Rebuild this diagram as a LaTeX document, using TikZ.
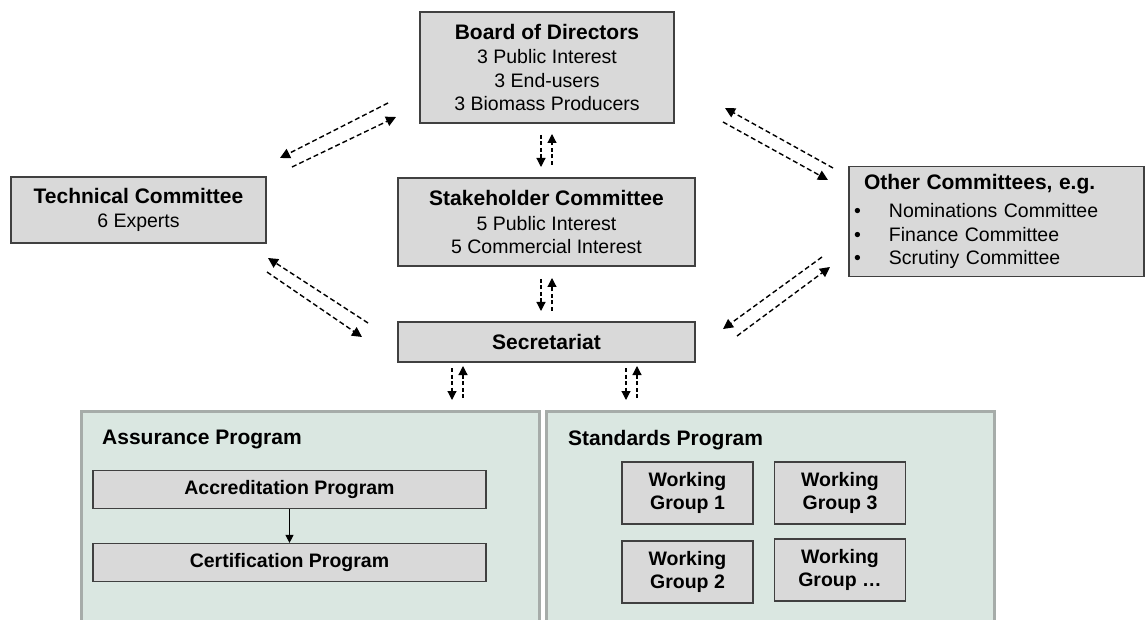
\documentclass[tikz,border=0pt]{standalone}
\usepackage{fontspec}
\setmainfont{Liberation Sans}
\usetikzlibrary{arrows.meta}
\definecolor{boxfill}{RGB}{217,217,217}
\definecolor{boxline}{RGB}{64,64,64}
\definecolor{panelfill}{RGB}{218,231,225}
\definecolor{panelline}{RGB}{166,172,169}
\newcommand{\ttl}[1]{{\fontsize{21}{24}\selectfont\bfseries #1}}
\begin{document}
\begin{tikzpicture}[x=1pt,y=-1pt,
  box/.style={draw=boxline, fill=boxfill, line width=1.2pt, inner sep=0pt, align=center,
    font=\fontsize{19.5}{23.5}\selectfont},
  bbox/.style={box, font=\fontsize{19.5}{23}\selectfont\bfseries},
  panel/.style={draw=panelline, fill=panelfill, line width=2.5pt, inner sep=0pt},
  plabel/.style={anchor=west, inner sep=0pt, font=\fontsize{21}{24}\selectfont\bfseries},
  darr/.style={line width=1.4pt, dash pattern=on 5pt off 3pt, -{Triangle[length=10pt,width=10pt]}},
  varr/.style={line width=1.2pt, dash pattern=on 4pt off 2.5pt, -{Triangle[length=9pt,width=9pt]}},
  sarr/.style={line width=1pt, -{Triangle[length=8pt,width=8pt]}}
]
\useasboundingbox (0,0) rectangle (1146,620);
\clip (0,0) rectangle (1146,620);
\fill[white] (0,0) rectangle (1146,620);

% panels
\node[panel, minimum width=458pt, minimum height=240pt, anchor=north west] (ap) at (80,410) {};
\node[panel, minimum width=448pt, minimum height=240pt, anchor=north west] (sp) at (545,410) {};
\node[plabel] (aplab) at (102,440) {Assurance Program};
\node[plabel] (splab) at (568,440) {Standards Program};

% top boxes
\node[box, minimum width=254pt, minimum height=111pt] (board) at (547,67.5)
  {\ttl{Board of Directors}\\[1pt]3 Public Interest\\3 End-users\\3 Biomass Producers};
\node[box, minimum width=255pt, minimum height=66pt] (tech) at (138.5,210)
  {\ttl{Technical Committee}\\[1pt]6 Experts};
\node[box, minimum width=297pt, minimum height=88pt] (stake) at (546.5,222)
  {\ttl{Stakeholder Committee}\\[1pt]5 Public Interest\\5 Commercial Interest};
\node[box, minimum width=295pt, minimum height=110pt, text width=285pt, inner xsep=5pt, align=left] (other) at (996.5,221.5)
  {\hspace*{10pt}\ttl{Other Committees, e.g.}\\[5pt]
   \makebox[35pt][l]{\textbullet}Nominations Committee\\
   \makebox[35pt][l]{\textbullet}Finance Committee\\
   \makebox[35pt][l]{\textbullet}Scrutiny Committee};
\node[box, minimum width=297pt, minimum height=40pt] (secr) at (546.5,342)
  {\ttl{Secretariat}};

% assurance program
\node[bbox, minimum width=393pt, minimum height=38pt] (acc) at (289.5,489.5) {Accreditation Program};
\node[bbox, minimum width=393pt, minimum height=38pt] (cert) at (289.5,562.5) {Certification Program};
\draw[sarr] (acc.south) -- (cert.north);

% working groups
\node[bbox, minimum width=131pt, minimum height=62pt] (wg1) at (687.5,493) {Working\\Group 1};
\node[bbox, minimum width=131pt, minimum height=62pt] (wg3) at (840,493) {Working\\Group 3};
\node[bbox, minimum width=131pt, minimum height=62pt] (wg2) at (687.5,572) {Working\\Group 2};
\node[bbox, minimum width=131pt, minimum height=62pt] (wgx) at (840,570) {Working\\Group \dots};

% arrow end points
\coordinate (a1s) at (388,103); \coordinate (a1e) at (280,158);
\coordinate (a2s) at (292,167); \coordinate (a2e) at (396,117);
\coordinate (b1s) at (833,168); \coordinate (b1e) at (725,108);
\coordinate (b2s) at (723,122); \coordinate (b2e) at (828,180);
\coordinate (c1s) at (368,323); \coordinate (c1e) at (268,258);
\coordinate (c2s) at (267,272); \coordinate (c2e) at (362,337);
\coordinate (d1s) at (822,257); \coordinate (d1e) at (723,329);
\coordinate (d2s) at (737,336); \coordinate (d2e) at (830,267);
\coordinate (v1s) at (541,135); \coordinate (v1e) at (541,167);
\coordinate (v2s) at (552,165); \coordinate (v2e) at (552,134);
\coordinate (v3s) at (541,279); \coordinate (v3e) at (541,311);
\coordinate (v4s) at (552,311); \coordinate (v4e) at (552,278);
\coordinate (v5s) at (452,368); \coordinate (v5e) at (452,400);
\coordinate (v6s) at (463,398); \coordinate (v6e) at (463,366);
\coordinate (v7s) at (626,368); \coordinate (v7e) at (626,400);
\coordinate (v8s) at (637,398); \coordinate (v8e) at (637,366);

\foreach \n in {a1,a2,b1,b2,c1,c2,d1,d2}{\draw[darr] (\n s) -- (\n e);}
\foreach \n in {v1,v2,v3,v4,v5,v6,v7,v8}{\draw[varr] (\n s) -- (\n e);}
\end{tikzpicture}
\end{document}
